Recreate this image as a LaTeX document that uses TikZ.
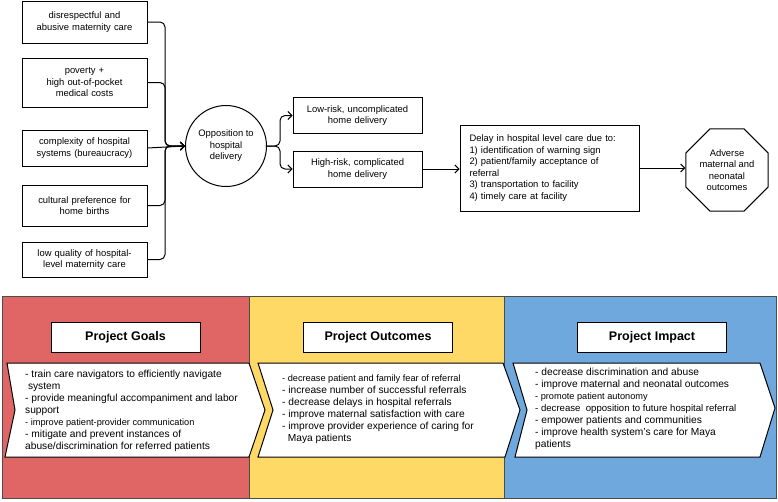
\documentclass[tikz,border=0pt]{standalone}
\usepackage{fontspec}
\setmainfont{Liberation Sans}
\usepackage{xcolor}
\usepackage{tikz}
\usetikzlibrary{shapes.geometric, arrows.meta}

\definecolor{goalred}{RGB}{224,102,102}
\definecolor{outyellow}{RGB}{255,217,102}
\definecolor{impblue}{RGB}{111,168,220}

\tikzset{
	causebox/.style={draw, line width=1pt, align=center, inner sep=4pt, text width=117pt, font=\fontsize{9.4}{11.5}\selectfont},
	riskbox/.style={draw, line width=1pt, align=center, inner sep=4pt, text width=121pt, minimum height=36pt, font=\fontsize{9.4}{11.5}\selectfont},
	link/.style={line width=1pt, -{Straight Barb[length=4pt, width=8pt]}, rounded corners=5pt},
	titlebox/.style={draw, fill=white, line width=0.6pt, minimum width=149pt, minimum height=30pt, font=\fontsize{12.5}{14}\selectfont\bfseries},
	listtext/.style={align=left, anchor=west, inner sep=0pt, font=\fontsize{10.2}{12}\selectfont},
	panel/.style={draw=black!70, line width=0.6pt},
	chevron/.style={draw, fill=white, line width=1pt, line join=miter}
}

\begin{document}
\begin{tikzpicture}[x=1pt, y=-1pt]

	\useasboundingbox (0,0) rectangle (778,501);

	% causes
	\node[causebox, minimum height=42pt] (b1) at (84.5,22) {disrespectful and\\abusive maternity care};
	\node[causebox, minimum height=49pt] (b2) at (84.5,82.5) {poverty +\\high out-of-pocket\\medical costs};
	\node[causebox, minimum height=36pt] (b3) at (84.5,148) {complexity of hospital\\systems (bureaucracy)};
	\node[causebox, minimum height=41pt] (b4) at (84.5,205.5) {cultural preference for\\home births};
	\node[causebox, minimum height=35pt] (b5) at (84.5,259.5) {low quality of hospital-\\level maternity care};

	\node[draw, circle, line width=1pt, minimum size=81pt, align=center, font=\fontsize{9.4}{11.5}\selectfont] (opp) at (226,146) {Opposition to\\hospital\\delivery};

	\coordinate (join) at (165,146);
	\draw[link] (b1.east) -| (join) -- (opp.west);
	\draw[link] (b2.east) -| (join) -- (opp.west);
	\draw[link] (b3.east) -- (opp.west);
	\draw[link] (b4.east) -| (join) -- (opp.west);
	\draw[link] (b5.east) -| (join) -- (opp.west);

	% home delivery
	\node[riskbox] (low) at (357.5,115.5) {Low-risk, uncomplicated\\home delivery};
	\node[riskbox] (high) at (357.5,169) {High-risk, complicated\\home delivery};

	\coordinate (split) at (280,146);
	\draw[link] (opp.east) -- (split) |- (low.west);
	\draw[link] (opp.east) -- (split) |- (high.west);

	\node[draw, line width=1pt, align=left, inner sep=0pt, text width=160pt, minimum width=179pt, minimum height=86pt, font=\fontsize{9.4}{11.5}\selectfont] (delay) at (549.5,168) {Delay in hospital level care due to:\\1) identification of warning sign\\2) patient/family acceptance of\\referral\\3) transportation to facility\\4) timely care at facility};

	\node[draw, regular polygon, regular polygon sides=8, line width=1pt, minimum size=89pt, inner sep=0pt, align=center, font=\fontsize{9.4}{11.5}\selectfont] (adv) at (727,170) {Adverse\\maternal and\\neonatal\\outcomes};

	\draw[link] (high.east) -- (high.east -| delay.west);
	\draw[link] (delay.east) -- (delay.east -| adv.west);

	% project panels
	\draw[panel, fill=goalred] (2,296) rectangle (249,498);
	\draw[panel, fill=outyellow] (249,296) rectangle (504,498);
	\draw[panel, fill=impblue] (504,296) rectangle (776,498);

	\node[titlebox] (goals) at (125.5,337) {Project Goals};
	\node[titlebox] (outc) at (378,337) {Project Outcomes};
	\node[titlebox] (imp) at (652,337) {Project Impact};

	\draw[chevron] (7,363)--(249,363)--(265,410)--(249,457)--(5,457)--(15,410)--cycle;
	\draw[chevron] (258,363)--(503,363)--(520,410)--(505,457)--(258,457)--(273,410)--cycle;
	\draw[chevron] (513,363)--(760,363)--(775,408)--(760,457)--(515,457)--(527,410)--cycle;

	\node[listtext] (goaltext) at (25,411) {- train care navigators to efficiently navigate\\
		\ system\\
		- provide meaningful accompaniment and labor\\
		support\\
		{\fontsize{9.2}{12}\selectfont - improve patient-provider communication}\\
		- mitigate and prevent instances of\\
		abuse/discrimination for referred patients};

	\node[listtext] (outtext) at (282,409) {{\fontsize{9.2}{12}\selectfont - decrease patient and family fear of referral}\\
		- increase number of successful referrals\\
		- decrease delays in hospital referrals\\
		- improve maternal satisfaction with care\\
		- improve provider experience of caring for\\
		\ \ Maya patients};

	\node[listtext] (imptext) at (535,409) {- decrease discrimination and abuse\\
		- improve maternal and neonatal outcomes\\
		{\fontsize{9.2}{12}\selectfont - promote patient autonomy}\\
		{\fontsize{9.6}{12}\selectfont - decrease\ \ opposition to future hospital referral}\\
		- empower patients and communities\\
		- improve health system's care for Maya\\
		patients};

\end{tikzpicture}
\end{document}
